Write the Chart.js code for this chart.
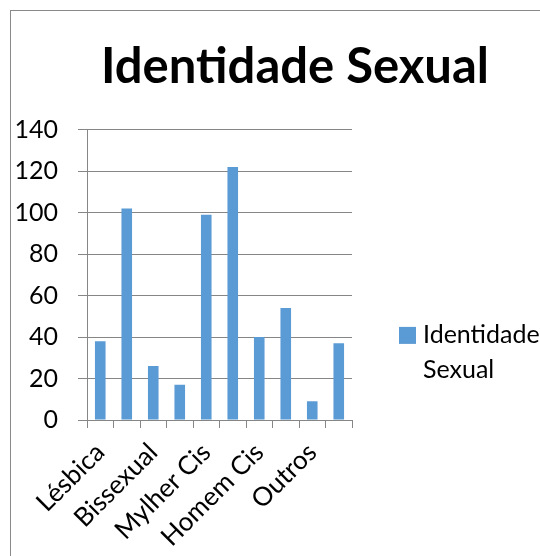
<!DOCTYPE html>
<html lang="pt">
<head>
<meta charset="utf-8">
<title>Identidade Sexual</title>
<script src="https://cdn.jsdelivr.net/npm/chart.js@4/dist/chart.umd.min.js"></script>
<style>
    html, body { margin: 0; padding: 0; background: #fff; overflow: hidden; }
    #moldura {
        position: absolute; left: 10px; top: 10px;
        width: 568px; height: 560px;
        border: 1px solid #898989;
    }
    #grafico { display: block; }
</style>
</head>
<body>
<div id="moldura">
    <canvas id="grafico" width="568" height="560"></canvas>
</div>
<script>
// Dados (só metade das categorias tem rótulo visível)
const categorias = ['Lésbica', '', 'Bissexual', '', 'Mylher Cis', '', 'Homem Cis', '', 'Outros', ''];
const valores = [38, 102, 26, 17, 99, 122, 40, 54, 9, 37];
const nomeSerie = 'Identidade Sexual';
const marcasY = [0, 20, 40, 60, 80, 100, 120, 140];

const azul = '#5B9BD5';
const cinza = '#868686';
const fonte = 'Lato';

// Centra o título na largura toda do canvas (como no Excel)
const tituloCentrado = {
    id: 'tituloCentrado',
    afterLayout(chart) {
        chart.titleBlock.left = 0;
        chart.titleBlock.right = chart.width;
    }
};

// Legenda desenhada à mão, em duas linhas, à direita da área do gráfico
const legendaLateral = {
    id: 'legendaLateral',
    afterDraw(chart) {
        const ctx = chart.ctx;
        const area = chart.chartArea;
        const x = area.right + 47;
        const y = (area.top + area.bottom) / 2 + 60;
        const linhas = nomeSerie.split(' ');
        ctx.save();
        ctx.fillStyle = azul;
        ctx.fillRect(x, y - 8, 17, 17);
        ctx.fillStyle = '#000';
        ctx.font = `25px ${fonte}`;
        ctx.textBaseline = 'middle';
        ctx.textAlign = 'left';
        linhas.forEach((linha, i) => {
            ctx.fillText(linha, x + 24, y + i * 35);
        });
        ctx.restore();
    }
};

const ctx = document.getElementById('grafico').getContext('2d');

new Chart(ctx, {
    type: 'bar',
    data: {
        labels: categorias,
        datasets: [{
            label: nomeSerie,
            data: valores,
            backgroundColor: azul,
            borderWidth: 0,
            categoryPercentage: 1,
            barPercentage: 0.4
        }]
    },
    options: {
        responsive: false,
        animation: false,
        layout: { padding: { left: 0, top: 0, right: 227, bottom: 0 } },
        plugins: {
            legend: { display: false },
            tooltip: { enabled: false },
            title: {
                display: true,
                text: nomeSerie,
                color: '#000',
                font: { family: fonte, size: 49, weight: 'bold', lineHeight: 1.2 },
                padding: { top: 27, bottom: 33 }
            }
        },
        scales: {
            x: {
                grid: {
                    display: true,
                    drawOnChartArea: false,
                    drawTicks: true,
                    tickLength: 8,
                    color: cinza
                },
                border: { display: true, color: cinza },
                ticks: {
                    autoSkip: false,
                    maxRotation: 45,
                    minRotation: 45,
                    padding: 9,
                    color: '#000',
                    font: { family: fonte, size: 26 }
                },
                afterFit(escala) { escala.height = 151; }
            },
            y: {
                min: 0,
                max: 140,
                afterBuildTicks(escala) {
                    escala.ticks = marcasY.map(v => ({ value: v }));
                },
                grid: { color: cinza, tickLength: 9 },
                border: { display: true, color: cinza },
                ticks: {
                    padding: 20,
                    color: '#000',
                    font: { family: fonte, size: 25 }
                },
                afterFit(escala) { escala.width = 76; }
            }
        }
    },
    plugins: [tituloCentrado, legendaLateral]
});
</script>
</body>
</html>
